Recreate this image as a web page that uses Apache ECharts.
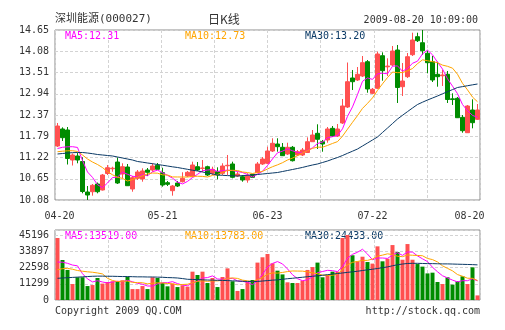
<!DOCTYPE html>
<html><head><meta charset="utf-8">
<script src="https://cdn.jsdelivr.net/npm/echarts@6/dist/echarts.min.js"></script>
<style>html,body{margin:0;padding:0;background:#fff}#c{width:505px;height:330px}</style>
</head><body><div id="c"></div>
<script>
// ---- price data (open / close / low / high), one entry per trading day ----
const openP = [11.532,11.989,11.962,11.155,11.263,11.115,10.295,10.303,10.510,10.349,
10.792,10.920,11.101,10.779,10.967,10.376,10.663,10.645,10.886,10.886,
11.013,10.814,10.545,10.330,10.537,10.572,10.725,10.706,10.975,10.930,
10.975,10.798,10.841,10.798,11.000,11.048,10.725,10.706,10.618,10.771,
10.814,11.048,11.067,11.397,11.585,11.497,11.317,11.497,11.290,11.290,
11.357,11.647,11.873,11.647,11.693,12.007,11.800,12.150,12.580,13.360,
13.306,13.413,13.798,12.948,13.083,13.959,13.660,13.709,14.112,13.126,
13.395,13.986,14.470,14.308,14.024,13.798,13.459,13.420,13.459,12.800,
12.814,12.303,11.889,12.499,12.249];
const closeP = [12.069,11.755,11.196,11.290,11.155,10.308,10.214,10.475,10.303,10.752,
10.948,10.935,10.537,10.975,10.464,10.679,10.833,10.860,10.825,10.994,
10.905,10.483,10.502,10.456,10.456,10.663,10.825,11.021,10.886,10.940,
10.752,10.905,10.752,10.994,11.013,10.690,10.779,10.618,10.725,10.690,
11.048,11.182,11.397,11.604,11.513,11.271,11.497,11.136,11.378,11.424,
11.647,11.827,11.712,11.585,11.989,11.800,11.989,12.607,13.260,13.260,
13.459,13.771,13.064,13.056,14.005,13.556,13.680,14.085,13.104,13.279,
13.932,14.381,14.362,14.093,13.771,13.306,13.395,13.440,12.782,12.780,
12.292,11.943,12.607,12.158,12.499];
const lowP = [11.505,11.666,11.034,11.007,11.067,10.260,10.080,10.196,10.260,10.335,
10.752,10.841,10.510,10.663,10.456,10.303,10.618,10.572,10.725,10.841,
10.886,10.438,10.456,10.196,10.429,10.550,10.698,10.698,10.860,10.833,
10.725,10.752,10.636,10.752,10.752,10.663,10.698,10.572,10.545,10.671,
10.798,11.021,11.048,11.370,11.378,11.263,11.290,11.115,11.263,11.263,
11.343,11.639,11.451,11.378,11.620,11.773,11.773,12.123,12.553,13.037,
13.279,13.386,12.964,12.930,13.064,13.287,13.413,13.680,12.688,12.876,
13.360,13.951,14.327,13.978,13.486,13.252,13.126,13.145,12.688,12.634,
12.284,11.889,11.881,12.007,12.231];
const highP = [12.150,12.034,12.042,11.330,11.352,11.228,10.456,10.510,10.550,10.779,
11.021,10.975,11.222,11.067,11.048,10.725,10.886,10.932,10.940,11.067,
11.075,10.948,10.591,10.483,10.591,10.825,10.860,11.110,11.101,11.155,
11.002,10.975,10.959,11.067,11.290,11.110,10.841,10.752,10.798,10.779,
11.101,11.236,11.513,11.739,11.739,11.612,11.620,11.532,11.424,11.478,
11.765,11.962,12.115,11.693,12.042,12.069,12.123,12.795,13.776,13.575,
13.655,13.951,13.843,13.091,14.067,14.050,13.889,14.220,14.247,13.763,
14.032,14.577,14.577,14.650,14.093,13.951,13.798,13.575,13.548,12.948,
12.849,12.365,12.634,12.787,12.661];

// ---- moving averages of price, as drawn ----
const ma5P = [11.464,11.497,11.510,11.513,11.493,11.141,10.833,10.688,10.491,10.410,
10.538,10.683,10.695,10.829,10.772,10.718,10.698,10.762,10.732,10.838,
10.883,10.813,10.742,10.668,10.560,10.512,10.580,10.684,10.770,10.867,
10.885,10.901,10.847,10.869,10.883,10.871,10.846,10.819,10.765,10.700,
10.772,10.853,11.008,11.184,11.349,11.393,11.456,11.404,11.359,11.341,
11.416,11.482,11.598,11.639,11.752,11.783,11.815,11.994,12.329,12.583,
12.915,13.271,13.363,13.322,13.471,13.490,13.472,13.676,13.686,13.541,
13.616,13.756,13.812,14.009,14.108,13.983,13.785,13.601,13.339,13.141,
12.938,12.647,12.481,12.356,12.300];
const ma10P = [11.378,11.392,11.403,11.405,11.384,11.290,11.182,11.101,11.034,10.952,
10.840,10.758,10.692,10.660,10.591,10.628,10.690,10.729,10.781,10.805,
10.801,10.756,10.752,10.700,10.699,10.698,10.697,10.713,10.719,10.714,
10.698,10.741,10.766,10.819,10.875,10.878,10.873,10.833,10.817,10.792,
10.821,10.849,10.914,10.975,11.025,11.083,11.155,11.206,11.272,11.345,
11.405,11.469,11.501,11.499,11.547,11.600,11.649,11.796,11.984,12.168,
12.349,12.543,12.678,12.826,13.027,13.203,13.372,13.520,13.504,13.506,
13.553,13.614,13.744,13.848,13.824,13.799,13.771,13.706,13.674,13.624,
13.460,13.216,13.041,12.847,12.720];
const ma30P = [11.317,11.330,11.343,11.352,11.357,11.357,11.343,11.325,11.303,11.290,
11.276,11.263,11.236,11.209,11.182,11.155,11.115,11.096,11.075,11.056,
11.034,11.015,10.994,10.972,10.954,10.929,10.905,10.881,10.860,10.833,
10.806,10.779,10.752,10.744,10.736,10.731,10.725,10.736,10.744,10.755,
10.766,10.779,10.792,10.806,10.819,10.846,10.873,10.900,10.927,10.956,
10.989,11.021,11.048,11.088,11.128,11.177,11.222,11.276,11.335,11.392,
11.451,11.532,11.612,11.693,11.774,11.895,12.015,12.136,12.257,12.357,
12.456,12.553,12.647,12.709,12.768,12.822,12.876,12.935,12.991,13.048,
13.104,13.128,13.152,13.176,13.198];

// ---- volume ----
const volume = [43100,27800,20900,11100,15800,15800,9700,10400,15300,11400,
12500,13000,13000,13700,16200,7600,7600,9700,7600,15800,
15300,11800,9500,11400,9000,10200,9300,19700,17400,19700,
11800,15300,9000,16000,22000,13000,6300,7600,12500,13900,
26000,29700,32000,25500,20400,17800,12300,11800,11800,13400,
20900,22900,26000,15800,17600,19700,19700,43100,45196,31100,
26900,30100,26400,25300,37300,26900,28700,38200,33400,28000,
38900,28000,25000,23200,18500,19000,12500,11100,15800,10700,
13000,16500,11100,22700,3200];
const ma5V = [26400,26300,25500,24300,23740,18280,14660,12560,13400,12520,
11860,12520,13040,12720,13680,12700,11620,10960,9740,9660,
11200,12040,12000,12760,11400,10380,9880,11920,13120,15260,
15580,16780,14640,14360,14820,15060,13260,12980,12280,10660,
13260,17940,22820,25420,26720,25080,21600,17560,14820,13420,
14040,16160,19000,19800,20640,20400,19760,23180,29060,31760,
33200,35280,31940,27960,29200,29200,28920,31280,32900,31040,
33440,33300,30660,28620,26720,22740,19640,16860,15380,13820,
12620,13420,13420,14800,13300];
const ma10V = [21000,21800,22000,21400,20500,20000,19600,19300,18800,18130,
15070,13590,12800,13060,13100,12280,12070,12000,11230,11670,
11950,11830,11480,11250,10530,10790,10960,11960,12940,13330,
12980,13330,13280,13740,15040,15320,15020,13810,13320,12740,
14160,15600,17900,18850,18690,19170,19770,20190,20120,20070,
19560,18880,18280,17310,17030,17220,17960,21090,24430,26200,
26800,27520,27560,28510,30480,31200,32100,31610,30430,30120,
31320,31110,30970,30760,28880,28090,26470,23760,22000,20270,
17680,16530,15140,15090,13560];
const ma30V = [15100,15300,15500,15700,15900,16100,16300,16500,16600,16600,
16500,16500,16400,16300,16300,16200,16100,16100,16000,16000,
15900,15800,15600,15500,15300,14900,14400,14300,14200,14000,
13900,13800,13700,13600,13500,13300,13200,13000,12900,12900,
12900,13200,13500,13800,14000,14400,14800,15100,15500,15800,
16200,16500,16800,17200,17600,18000,18400,18800,19200,19600,
20000,20500,21000,21400,21900,22500,23000,23800,24500,25000,
25400,25500,25500,25400,25300,25300,25200,25100,25100,25000,
24900,24800,24700,24600,24433];

// ---- axis ticks ----
const xTickIdx = [0, 21, 42, 63, 84];
const xTickLabels = ['04-20', '05-21', '06-23', '07-22', '08-20'];
const yTickLabels = ['10.08','10.65','11.22','11.79','12.37','12.94','13.51','14.08','14.65'];
const priceMin = 10.08, priceMax = 14.65;
const volTicks = [0, 11299, 22598, 33897, 45196];

const UP = '#ff5050', DOWN = '#008c00';
const C5 = '#ff00ff', C10 = '#ffa500', C30 = '#0b3a66';
const MONO = '"DejaVu Sans Mono", monospace';

const cats = openP.map((_, i) => String(i));
const kData = openP.map((o, i) => [o, closeP[i], lowP[i], highP[i]]);
const volData = volume.map((v, i) => ({
  value: v, itemStyle: { color: closeP[i] >= openP[i] ? UP : DOWN }
}));

const dash = { color: '#d3d3d3', width: 1, type: [3, 2] };
const volStep = volTicks[1];
const volTop = volTicks[volTicks.length - 1] * 70 / 65;

const chart = echarts.init(document.getElementById('c'), null, { renderer: 'canvas' });
const lineS = (name, data, color, xi, yi) => ({
  name, type: 'line', data, xAxisIndex: xi, yAxisIndex: yi, symbol: 'none',
  lineStyle: { color, width: 1 }, itemStyle: { color }, silent: true, z: 3
});
const xLabel = (v, i) => {
  const k = xTickIdx.indexOf(i);
  if (k === 0) return '{a|' + xTickLabels[k] + '}';
  if (k === xTickIdx.length - 1) return '{z|' + xTickLabels[k] + '}';
  return xTickLabels[k];
};
chart.setOption({
  animation: false,
  backgroundColor: '#fff',
  grid: [
    { left: 55, top: 30, width: 425, height: 170, show: true, borderColor: '#8c8c8c', borderWidth: 1, backgroundColor: 'transparent' },
    { left: 55, top: 230, width: 425, height: 70, show: true, borderColor: '#8c8c8c', borderWidth: 1, backgroundColor: 'transparent' }
  ],
  xAxis: [
    { type: 'category', gridIndex: 0, data: cats, boundaryGap: true,
      axisLine: { show: false }, axisTick: { show: false }, splitLine: { show: false },
      axisLabel: { interval: (i) => xTickIdx.indexOf(i) >= 0, margin: 11, color: '#333', fontSize: 10, fontFamily: MONO,
        formatter: xLabel,
        rich: {
          a: { padding: [0, 0, 0, 4], color: '#333', fontSize: 10, fontFamily: MONO },
          z: { padding: [0, 16, 0, 0], color: '#333', fontSize: 10, fontFamily: MONO }
        } } },
    { type: 'value', gridIndex: 0, min: 0, max: 8, interval: 1,
      axisLine: { show: false }, axisTick: { show: false }, axisLabel: { show: false },
      splitLine: { show: true, lineStyle: dash } },
    { type: 'category', gridIndex: 1, data: cats, boundaryGap: true,
      axisLine: { show: false }, axisTick: { show: false }, axisLabel: { show: false }, splitLine: { show: false } },
    { type: 'value', gridIndex: 1, min: 0, max: 8, interval: 1,
      axisLine: { show: false }, axisTick: { show: false }, axisLabel: { show: false },
      splitLine: { show: true, lineStyle: dash } }
  ],
  yAxis: [
    { type: 'value', gridIndex: 0, min: priceMin, max: priceMax, show: false },
    { type: 'value', gridIndex: 0, min: 0, max: 8, interval: 1, position: 'left',
      axisLine: { show: false }, axisTick: { show: false },
      axisLabel: { margin: 6, color: '#333', fontSize: 10, fontFamily: MONO, formatter: (v) => yTickLabels[v] },
      splitLine: { show: true, lineStyle: dash } },
    { type: 'value', gridIndex: 1, min: 0, max: volTop, interval: volStep, position: 'left',
      axisLine: { show: false }, axisTick: { show: false },
      axisLabel: { margin: 6, color: '#333', fontSize: 10, fontFamily: MONO, showMaxLabel: false,
        formatter: (v) => (volTicks.indexOf(v) >= 0 ? String(v) : '') },
      splitLine: { show: true, lineStyle: dash } }
  ],
  series: [
    { name: 'K', type: 'candlestick', data: kData, xAxisIndex: 0, yAxisIndex: 0, barWidth: 4,
      itemStyle: { color: UP, color0: DOWN, borderColor: UP, borderColor0: DOWN, borderWidth: 1 }, silent: true, z: 2 },
    lineS('MA5', ma5P, C5, 0, 0),
    lineS('MA10', ma10P, C10, 0, 0),
    lineS('MA30', ma30P, C30, 0, 0),
    { name: 'VOL', type: 'bar', data: volData, xAxisIndex: 2, yAxisIndex: 2, barWidth: 4, silent: true, z: 2 },
    lineS('VMA5', ma5V, C5, 2, 2),
    lineS('VMA10', ma10V, C10, 2, 2),
    lineS('VMA30', ma30V, C30, 2, 2)
  ],
  graphic: [
    { type: 'text', left: 55, top: 14, style: { text: '深圳能源(000027)', fill: '#333', font: '11px "DejaVu Sans Mono", "Noto Sans CJK SC", monospace' } },
    { type: 'text', left: 208, top: 13, style: { text: '日K线', fill: '#333', font: '12px "Noto Sans CJK SC", sans-serif' } },
    { type: 'text', right: 27, top: 15, style: { text: '2009-08-20 10:09:00', fill: '#333', font: '10px ' + MONO } },
    { type: 'text', left: 65, top: 31, style: { text: 'MA5:12.31', fill: C5, font: '10px ' + MONO } },
    { type: 'text', left: 185, top: 31, style: { text: 'MA10:12.73', fill: C10, font: '10px ' + MONO } },
    { type: 'text', left: 305, top: 31, style: { text: 'MA30:13.20', fill: C30, font: '10px ' + MONO } },
    { type: 'text', left: 65, top: 231, style: { text: 'MA5:13519.00', fill: C5, font: '10px ' + MONO } },
    { type: 'text', left: 185, top: 231, style: { text: 'MA10:13783.00', fill: C10, font: '10px ' + MONO } },
    { type: 'text', left: 305, top: 231, style: { text: 'MA30:24433.00', fill: C30, font: '10px ' + MONO } },
    { type: 'text', left: 55, top: 306, style: { text: 'Copyright 2009 QQ.COM', fill: '#333', font: '10px ' + MONO } },
    { type: 'text', right: 25, top: 306, style: { text: 'http://stock.qq.com', fill: '#333', font: '10px ' + MONO } }
  ]
});
</script></body></html>
